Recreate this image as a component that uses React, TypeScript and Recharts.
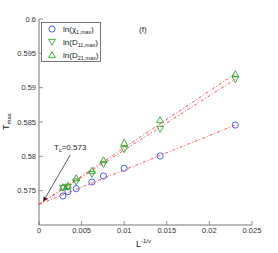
import { ComposedChart, Scatter, Line, XAxis, YAxis, ReferenceLine } from "recharts";

const xVals = [0.00281, 0.0034, 0.00437, 0.00621, 0.00757, 0.01, 0.01422, 0.02304];
const chi1 = [0.57422, 0.57485, 0.57529, 0.57626, 0.57714, 0.57826, 0.58005, 0.58456];
const d11 = [0.57539, 0.57553, 0.57631, 0.57743, 0.57888, 0.58102, 0.58398, 0.59122];
const d21 = [0.57553, 0.57575, 0.57684, 0.57791, 0.57947, 0.58199, 0.58529, 0.59199];

const fitX = [0, 0.0231];
const fitChi = [0.573, 0.58459];
const fitD11 = [0.573, 0.59127];
const fitD21 = [0.573, 0.59208];

const xTicks = [0, 0.005, 0.01, 0.015, 0.02, 0.025];
const yTicks = [0.575, 0.58, 0.585, 0.59, 0.595, 0.6];

const tc = 0.573;
const arrowFrom = { x: 0.00367, y: 0.5802 };
const arrowTo = { x: 0.00047, y: 0.57339 };

const BLUE = "#3b4cf5";
const GREEN = "#2aa52a";
const RED = "#ff4040";
const AXIS = "#777";
const FONT = "'Liberation Sans', Arial, sans-serif";

const pts = (ys: number[]) => xVals.map((x, i) => ({ x, y: ys[i] }));
const fit = (ys: number[]) => fitX.map((x, i) => ({ x, y: ys[i] }));

const Circle = (p: any) => <circle cx={p.cx} cy={p.cy} r={3.1} fill="none" stroke={BLUE} strokeWidth={0.9} />;
const TriDown = (p: any) => (
  <polygon points={`${p.cx - 3.4},${p.cy - 2.7} ${p.cx + 3.4},${p.cy - 2.7} ${p.cx},${p.cy + 3.3}`} fill="none" stroke={GREEN} strokeWidth={0.9} />
);
const TriUp = (p: any) => (
  <polygon points={`${p.cx - 3.4},${p.cy + 2.7} ${p.cx + 3.4},${p.cy + 2.7} ${p.cx},${p.cy - 3.3}`} fill="none" stroke={GREEN} strokeWidth={0.9} />
);

const fmt = (v: number) => String(Number(v.toFixed(4)));

const BottomTick = (p: any) => (
  <g>
    <line x1={p.x} y1={p.y - 3} x2={p.x} y2={p.y - 7} stroke={AXIS} strokeWidth={0.8} />
    <text x={p.x} y={p.y} dy="0.71em" textAnchor="middle" fontSize={7.5} fill="#333" fontFamily={FONT}>
      {fmt(p.payload.value)}
    </text>
  </g>
);
const LeftTick = (p: any) => (
  <g>
    <line x1={p.x + 3} y1={p.y} x2={p.x + 7} y2={p.y} stroke={AXIS} strokeWidth={0.8} />
    <text x={p.x} y={p.y} dy="0.35em" textAnchor="end" fontSize={7.5} fill="#333" fontFamily={FONT}>
      {fmt(p.payload.value)}
    </text>
  </g>
);
const TopTick = (p: any) => <line x1={p.x} y1={p.y} x2={p.x} y2={p.y + 4} stroke={AXIS} strokeWidth={0.8} />;
const RightTick = (p: any) => <line x1={p.x} y1={p.y} x2={p.x - 4} y2={p.y} stroke={AXIS} strokeWidth={0.8} />;

const Arrow = (p: any) => {
  const { x1, y1, x2, y2 } = p;
  const a = Math.atan2(y2 - y1, x2 - x1);
  const L = 5, W = 2;
  const bx = x2 - L * Math.cos(a), by = y2 - L * Math.sin(a);
  const nx = -Math.sin(a) * W, ny = Math.cos(a) * W;
  return (
    <g>
      <line x1={x1} y1={y1} x2={bx} y2={by} stroke="#333" strokeWidth={0.8} />
      <polygon points={`${x2},${y2} ${bx + nx},${by + ny} ${bx - nx},${by - ny}`} fill="#111" />
    </g>
  );
};

export default function App() {
  return (
    <div style={{ position: "absolute", left: 0, top: 0, width: 278, height: 253, background: "#fff" }}>
      <ComposedChart width={278} height={253} margin={{ top: 19, right: 26, bottom: 0, left: 0 }}>
        <XAxis type="number" dataKey="x" domain={[0, 0.025]} ticks={xTicks} height={28} tickSize={0} tickMargin={3}
          tickLine={false} axisLine={{ stroke: AXIS }} tick={<BottomTick />} allowDataOverflow />
        <XAxis xAxisId="top" orientation="top" type="number" dataKey="x" domain={[0, 0.025]} ticks={xTicks} height={0}
          tickSize={0} tickMargin={0} tickLine={false} axisLine={{ stroke: AXIS }} tick={<TopTick />} />
        <YAxis type="number" domain={[0.57, 0.6]} ticks={yTicks} width={39} tickSize={0} tickMargin={3}
          tickLine={false} axisLine={{ stroke: AXIS }} tick={<LeftTick />} allowDataOverflow />
        <YAxis yAxisId="r" orientation="right" type="number" domain={[0.57, 0.6]} ticks={yTicks} width={0}
          tickSize={0} tickMargin={0} tickLine={false} axisLine={{ stroke: AXIS }} tick={<RightTick />} />
        <Line data={fit(fitChi)} dataKey="y" stroke={RED} strokeWidth={0.9} strokeDasharray="3 2 1 2" dot={false} isAnimationActive={false} />
        <Line data={fit(fitD11)} dataKey="y" stroke={RED} strokeWidth={0.9} strokeDasharray="3 2 1 2" dot={false} isAnimationActive={false} />
        <Line data={fit(fitD21)} dataKey="y" stroke={RED} strokeWidth={0.9} strokeDasharray="3 2 1 2" dot={false} isAnimationActive={false} />
        <Scatter data={pts(chi1)} dataKey="y" shape={Circle} isAnimationActive={false} />
        <Scatter data={pts(d11)} dataKey="y" shape={TriDown} isAnimationActive={false} />
        <Scatter data={pts(d21)} dataKey="y" shape={TriUp} isAnimationActive={false} />
        <ReferenceLine segment={[arrowFrom, arrowTo]} shape={Arrow} ifOverflow="visible" />
      </ComposedChart>
      <svg width={278} height={253} style={{ position: "absolute", left: 0, top: 0, pointerEvents: "none" }} fontFamily={FONT}>
        <rect x={41.5} y={22.5} width={59} height={39} fill="#fff" stroke="#555" strokeWidth={0.8} />
        <Circle cx={52} cy={29} />
        <TriDown cx={52} cy={42} />
        <TriUp cx={52} cy={55} />
        <text x={63} y={32} fontSize={8} fill="#222">ln(χ<tspan fontSize={5.5} dy={2}>1,<tspan fontStyle="italic">max</tspan></tspan><tspan dy={-2}>)</tspan></text>
        <text x={63} y={45} fontSize={8} fill="#222">ln(D<tspan fontSize={5.5} dy={2}>11,<tspan fontStyle="italic">max</tspan></tspan><tspan dy={-2}>)</tspan></text>
        <text x={63} y={58} fontSize={8} fill="#222">ln(D<tspan fontSize={5.5} dy={2}>21,<tspan fontStyle="italic">max</tspan></tspan><tspan dy={-2}>)</tspan></text>
        <text x={139} y={32} fontSize={8} fill="#222">(f)</text>
        <text x={54} y={150} fontSize={8} fill="#222">T<tspan fontSize={5.5} dy={2}>c</tspan><tspan dy={-2}>={tc}</tspan></text>
        <text x={136} y={247} fontSize={9} fill="#222">L<tspan fontSize={6} dy={-4}>-1/ν</tspan></text>
        <text transform="translate(9,130) rotate(-90)" fontSize={9} fill="#222">T<tspan fontSize={6} dy={2}>max</tspan></text>
      </svg>
    </div>
  );
}
